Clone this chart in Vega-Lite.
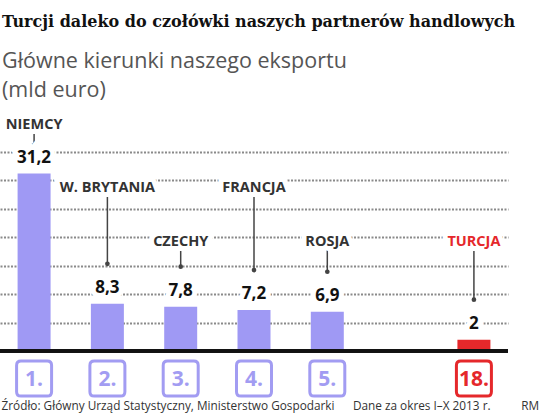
{
  "$schema": "https://vega.github.io/schema/vega-lite/v6.json",
  "width": 508,
  "height": 199,
  "autosize": {"type": "none"},
  "padding": {"left": 0, "top": 152, "right": 41, "bottom": 63},
  "background": "white",
  "title": {
    "text": "Turcji daleko do czołówki naszych partnerów handlowych",
    "subtitle": ["Główne kierunki naszego eksportu", "(mld euro)"],
    "anchor": "start",
    "frame": "group",
    "offset": 15,
    "dx": 2,
    "font": "DejaVu Serif",
    "fontSize": 16,
    "fontWeight": "bold",
    "color": "#111111",
    "subtitleFont": "Open Sans",
    "subtitleFontSize": 21.5,
    "subtitleColor": "#555555",
    "subtitleLineHeight": 29,
    "subtitlePadding": 21
  },
  "data": {
    "values": [
      {"rank": "1.", "country": "NIEMCY", "value": 31.2},
      {"rank": "2.", "country": "W. BRYTANIA", "value": 8.3},
      {"rank": "3.", "country": "CZECHY", "value": 7.8},
      {"rank": "4.", "country": "FRANCJA", "value": 7.2},
      {"rank": "5.", "country": "ROSJA", "value": 6.9},
      {"rank": "18.", "country": "TURCJA", "value": 2}
    ]
  },
  "layer": [
    {
      "encoding": {
        "x": {
          "field": "rank",
          "type": "nominal",
          "scale": {"domain": ["1.", "2.", "3.", "4.", "5.", "", "18."], "paddingInner": 0.55, "paddingOuter": 0.24},
          "axis": {
            "labels": false,
            "ticks": false,
            "domain": false,
            "title": "Źródło: Główny Urząd Statystyczny, Ministerstwo Gospodarki\u00a0\u00a0\u00a0\u00a0\u00a0\u00a0Dane za okres I–X 2013 r.\u00a0\u00a0\u00a0\u00a0\u00a0\u00a0\u00a0\u00a0\u00a0\u00a0RM",
            "titleX": 1,
            "titleY": 58,
            "titleAlign": "left",
            "titleBaseline": "alphabetic",
            "titleFont": "Open Sans",
            "titleFontSize": 11.8,
            "titleFontWeight": "normal",
            "titleColor": "#333333"
          }
        }
      },
      "layer": [
        {
          "mark": {"type": "bar"},
          "encoding": {
            "y": {
              "field": "value",
              "type": "quantitative",
              "scale": {"domain": [0, 35], "nice": false},
              "axis": {
                "values": [5, 10, 15, 20, 25, 30, 35],
                "tickCount": 10,
                "labels": false,
                "ticks": false,
                "domain": false,
                "title": null,
                "grid": true,
                "gridColor": "#8a8a8a",
                "gridDash": [2, 1.5],
                "gridWidth": 2
              }
            },
            "color": {"condition": {"test": "datum.country === 'TURCJA'", "value": "#e5282b"}, "value": "#9f99f4"}
          }
        },
        {
          "transform": [{"filter": {"field": "country", "equal": "NIEMCY"}}],
          "layer": [
            {
              "mark": {"type": "rule", "color": "#444444", "strokeWidth": 1.5, "yOffset": -30, "y2Offset": 8},
              "encoding": {"y": {"field": "value", "type": "quantitative"}, "y2": {"datum": 39.75}}
            },
            {
              "mark": {"type": "point", "shape": "triangle-down", "filled": true, "color": "#444444", "size": 22, "opacity": 1, "yOffset": -28},
              "encoding": {"y": {"field": "value", "type": "quantitative"}}
            },
            {
              "mark": {"type": "text", "font": "Open Sans", "fontWeight": "bold", "fontSize": 14.5, "fill": "white", "stroke": "white", "strokeWidth": 10},
              "encoding": {"y": {"datum": 39.75, "type": "quantitative"}, "text": {"field": "country", "type": "nominal"}}
            },
            {
              "mark": {"type": "text", "font": "Open Sans", "fontWeight": "bold", "fontSize": 14.5, "color": "#333333"},
              "encoding": {"y": {"datum": 39.75, "type": "quantitative"}, "text": {"field": "country", "type": "nominal"}}
            }
          ]
        },
        {
          "transform": [{"filter": {"field": "country", "oneOf": ["W. BRYTANIA", "FRANCJA"]}}],
          "layer": [
            {
              "mark": {"type": "rule", "color": "#444444", "strokeWidth": 1.5, "yOffset": -40, "y2Offset": 3},
              "encoding": {"y": {"field": "value", "type": "quantitative"}, "y2": {"datum": 28.7}}
            },
            {
              "mark": {"type": "text", "font": "Open Sans", "fontWeight": "bold", "fontSize": 14.5, "fill": "white", "stroke": "white", "strokeWidth": 10},
              "encoding": {"y": {"datum": 28.7, "type": "quantitative"}, "text": {"field": "country", "type": "nominal"}}
            },
            {
              "mark": {"type": "text", "font": "Open Sans", "fontWeight": "bold", "fontSize": 14.5, "color": "#333333"},
              "encoding": {"y": {"datum": 28.7, "type": "quantitative"}, "text": {"field": "country", "type": "nominal"}}
            }
          ]
        },
        {
          "transform": [{"filter": {"field": "country", "oneOf": ["CZECHY", "ROSJA", "TURCJA"]}}],
          "layer": [
            {
              "mark": {"type": "rule", "color": "#444444", "strokeWidth": 1.5, "yOffset": -40, "y2Offset": 3},
              "encoding": {"y": {"field": "value", "type": "quantitative"}, "y2": {"datum": 19.2}}
            },
            {
              "mark": {"type": "text", "font": "Open Sans", "fontWeight": "bold", "fontSize": 14.5, "fill": "white", "stroke": "white", "strokeWidth": 10},
              "encoding": {"y": {"datum": 19.2, "type": "quantitative"}, "text": {"field": "country", "type": "nominal"}}
            },
            {
              "mark": {"type": "text", "font": "Open Sans", "fontWeight": "bold", "fontSize": 14.5},
              "encoding": {
                "y": {"datum": 19.2, "type": "quantitative"},
                "text": {"field": "country", "type": "nominal"},
                "color": {"condition": {"test": "datum.country === 'TURCJA'", "value": "#e5282b"}, "value": "#333333"}
              }
            }
          ]
        },
        {
          "transform": [{"filter": {"not": {"field": "country", "equal": "NIEMCY"}}}],
          "mark": {"type": "point", "filled": true, "color": "#444444", "size": 22, "opacity": 1, "yOffset": -40},
          "encoding": {"y": {"field": "value", "type": "quantitative"}}
        },
        {
          "mark": {"type": "text", "font": "Open Sans", "fontWeight": "bold", "fontSize": 17, "dy": -11, "baseline": "alphabetic", "fill": "white", "stroke": "white", "strokeWidth": 10},
          "encoding": {
            "y": {"field": "value", "type": "quantitative"},
            "text": {"field": "value", "type": "quantitative", "format": "~g"}
          }
        },
        {
          "mark": {"type": "text", "font": "Open Sans", "fontWeight": "bold", "fontSize": 17, "dy": -11, "baseline": "alphabetic", "color": "#111111"},
          "encoding": {
            "y": {"field": "value", "type": "quantitative"},
            "text": {"field": "value", "type": "quantitative", "format": "~g"}
          }
        },
        {
          "mark": {
            "type": "point",
            "shape": "M-0.75,-1H0.75Q1,-1 1,-0.75V0.75Q1,1 0.75,1H-0.75Q-1,1 -1,0.75V-0.75Q-1,-1 -0.75,-1Z",
            "size": 1225,
            "fill": "white",
            "fillOpacity": 1,
            "strokeWidth": 3,
            "opacity": 1,
            "yOffset": 27.5
          },
          "encoding": {
            "y": {"datum": 0, "type": "quantitative"},
            "stroke": {"condition": {"test": "datum.country === 'TURCJA'", "value": "#e5282b"}, "value": "#a29cf2"}
          }
        },
        {
          "mark": {"type": "text", "font": "Open Sans", "fontWeight": "bold", "fontSize": 21, "baseline": "middle", "yOffset": 28.5},
          "encoding": {
            "y": {"datum": 0, "type": "quantitative"},
            "text": {"field": "rank", "type": "nominal"},
            "color": {"condition": {"test": "datum.country === 'TURCJA'", "value": "#e5282b"}, "value": "#a29cf2"}
          }
        }
      ]
    },
    {
      "mark": {"type": "rule", "color": "#111111", "strokeWidth": 3},
      "encoding": {"y": {"datum": 0, "type": "quantitative"}}
    }
  ],
  "config": {
    "view": {"stroke": null},
    "font": "Open Sans",
    "locale": {
      "number": {"decimal": ",", "thousands": "\u00a0", "grouping": [3], "currency": ["", " zł"]}
    }
  }
}
